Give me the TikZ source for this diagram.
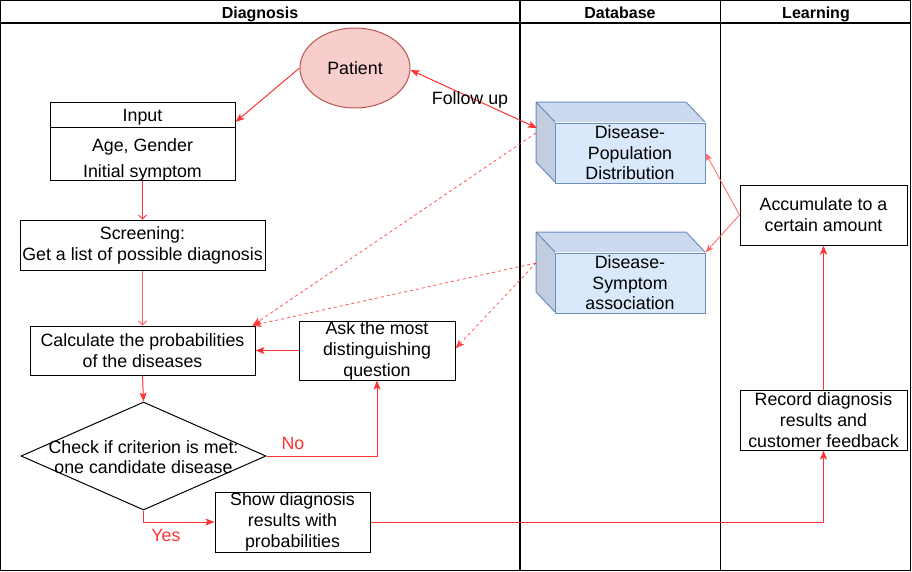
\documentclass[tikz,border=0pt]{standalone}
\usepackage{fontspec}
\setmainfont{Liberation Sans}
\usetikzlibrary{shapes.geometric,arrows.meta}
\definecolor{ered}{HTML}{FF3333}
\definecolor{lred}{HTML}{FF6666}
\definecolor{pfill}{HTML}{F8CECC}
\definecolor{pline}{HTML}{B85450}
\definecolor{cfront}{HTML}{DAE8FC}
\definecolor{ctop}{HTML}{CCD9EE}
\definecolor{cleft}{HTML}{C2CDE0}
\definecolor{cline}{HTML}{6C8EBF}
\begin{document}
\begin{tikzpicture}[x=1pt,y=-1pt,
  txt/.style={font=\fontsize{17.8}{21}\selectfont,align=center,inner sep=0pt},
  box/.style={txt,draw=black,line width=1pt},
  hdr/.style={font=\fontsize{16}{18}\selectfont\bfseries,inner sep=0pt,anchor=base},
  cubefront/.style={txt,draw=cline,fill=cfront,line width=1pt,font=\fontsize{17.8}{20.5}\selectfont,minimum width=150pt,minimum height=60pt},
  cubeedge/.style={draw=cline,line width=1pt,line join=round},
  conn/.style={draw=ered,line width=1pt,-{Stealth[length=9pt,width=7pt,inset=2pt]}},
  thin/.style={draw=lred,line width=0.8pt,-{Stealth[length=8pt,width=6pt,inset=2pt]}},
  dsh/.style={draw=ered,line width=0.8pt,opacity=0.85,dash pattern=on 3pt off 3pt,-{Stealth[length=9pt,width=7pt,inset=2pt]}},
  lbl/.style={txt,text=ered}]
\useasboundingbox (0,0) rectangle (912,571);
% swimlanes
\draw[line width=1.2pt] (0.8,0.8) rectangle (910.8,570.2);
\draw[line width=1.2pt] (0.8,23) -- (910.8,23);
\draw[line width=1.2pt] (520,0.8) -- (520,570.2);
\draw[line width=1pt] (720,0.8) -- (720,570.2);
\node[hdr] (hD) at (260,18) {Diagnosis};
\node[hdr] (hB) at (620,18) {Database};
\node[hdr] (hL) at (816,18) {Learning};

% Diagnosis lane
\node[ellipse,draw=pline,fill=pfill,line width=1pt,minimum width=110pt,minimum height=80pt,txt] (patient) at (355,68) {Patient};
\node[box,minimum width=185pt,minimum height=78pt] (input) at (142.5,141) {};
\draw[line width=1pt] ([yshift=-26pt]input.north west) -- ([yshift=-26pt]input.north east);
\node[txt] (inT) at (142.5,117) {Input};
\node[txt] (inA) at (142.5,146.5) {Age, Gender};
\node[txt] (inB) at (142.5,172.5) {Initial symptom};
\node[box,minimum width=245pt,minimum height=50pt] (screen) at (142.5,245) {Screening:\\Get a list of possible diagnosis};
\node[box,minimum width=225pt,minimum height=49pt] (calc) at (142.5,350.5) {Calculate the probabilities\\of the diseases};
\node[box,minimum width=156pt,minimum height=59pt] (ask) at (377,350.5) {Ask the most\\distinguishing\\question};
\node[diamond,draw=black,line width=1pt,minimum width=245pt,minimum height=108pt,inner sep=0pt] (dia) at (143.5,456) {};
\node[txt,font=\fontsize{17.8}{20}\selectfont] (diaT) at (143.5,457) {Check if criterion is met:\\one candidate disease};
\node[box,minimum width=155pt,minimum height=60pt] (show) at (292.5,522) {Show diagnosis\\results with\\probabilities};

% Database lane: cubes
\fill[ctop] (536,102) -- (686,102) -- (705,122) -- (555,122) -- cycle;
\fill[cleft] (536,102) -- (555,122) -- (555,182) -- (536,162) -- cycle;
\draw[cubeedge] (536,102) -- (686,102) -- (705,122) (536,102) -- (555,122) (536,102) -- (536,162) -- (555,182);
\node[cubefront] (dpop) at (630,153) {Disease-\\Population\\Distribution};
\fill[ctop] (536,232) -- (686,232) -- (705,252) -- (555,252) -- cycle;
\fill[cleft] (536,232) -- (555,252) -- (555,312) -- (536,292) -- cycle;
\draw[cubeedge] (536,232) -- (686,232) -- (705,252) (536,232) -- (555,252) (536,232) -- (536,292) -- (555,312);
\node[cubefront] (dsym) at (630,283) {Disease-\\Symptom\\association};
\coordinate (popL) at (537,128);
\coordinate (popD) at (536,133);
\coordinate (symD) at (536,263);

% Learning lane
\node[box,minimum width=167pt,minimum height=60pt] (accum) at (823.5,215) {Accumulate to a\\certain amount};
\node[box,minimum width=167pt,minimum height=60pt] (record) at (823.5,420) {Record diagnosis\\results and\\customer feedback};

% connectors
\draw[conn] (patient.west) -- ([yshift=19pt]input.east);
\draw[conn,{Stealth[length=9pt,width=7pt,inset=2pt]}-{Stealth[length=9pt,width=7pt,inset=2pt]}] ([yshift=-2pt]patient.east) -- (popL);
\node[txt] (fu) at (470,100) {Follow up};
\draw[draw=ered,line width=0.8pt,-{Straight Barb[length=4pt,width=8pt]}] (input.south) -- (screen.north);
\draw[draw=lred,line width=1pt,-{Straight Barb[length=4pt,width=8pt]}] (screen.south) -- (calc.north);
\draw[conn] (calc.south) -- (dia.north);
\draw[conn] (ask.west) -- (calc.east);
\draw[conn] (dia.east) -| (ask.south);
\node[lbl] (no) at (293,443) {No};
\draw[conn] (dia.south) |- (show.west);
\node[lbl] (yes) at (166,535) {Yes};
\draw[conn] (show.east) -| (record.south);
\draw[conn] (record.north) -- (accum.south);
\draw[thin] (accum.west) -- (dpop.east);
\draw[thin] (accum.west) -- (dsym.north east);
\draw[dsh] (popD) -- ([xshift=-3pt]calc.north east);
\draw[dsh] (symD) -- ([xshift=-3pt]calc.north east);
\draw[dsh] (symD) -- ([yshift=2pt]ask.east);
\end{tikzpicture}
\end{document}
